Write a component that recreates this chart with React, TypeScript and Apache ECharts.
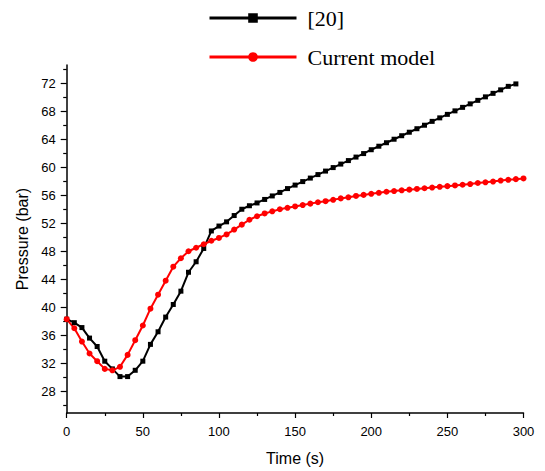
import React, { useEffect, useRef } from "react";
import * as echarts from "echarts";

const times = [0, 5, 10, 15, 20, 25, 30, 35, 40, 45, 50, 55, 60, 65, 70, 75, 80, 85, 90, 95, 100, 105, 110, 115, 120, 125, 130, 135, 140, 145, 150, 155, 160, 165, 170, 175, 180, 185, 190, 195, 200, 205, 210, 215, 220, 225, 230, 235, 240, 245, 250, 255, 260, 265, 270, 275, 280, 285, 290, 295, 300];

const ref20 = [38.3, 37.8, 37.1, 35.6, 34.4, 32.3, 31.2, 30.1, 30.1, 31.0, 32.3, 34.7, 36.5, 38.6, 40.4, 42.3, 45.0, 46.5, 48.4, 50.9, 51.6, 52.2, 53.1, 54.0, 54.5,
  54.9, 55.4, 55.9, 56.4, 56.95, 57.45, 57.95, 58.45, 58.95, 59.45, 59.95, 60.45, 60.95, 61.45, 61.95, 62.5, 63.0, 63.5, 64.0, 64.5, 65.0, 65.5, 66.0, 66.55, 67.05, 67.55, 68.05, 68.55, 69.05, 69.55, 70.05, 70.55, 71.05, 71.55, 71.9];

const currentModel = [38.3, 37.0, 35.1, 33.4, 32.3, 31.2, 31.0, 31.5, 33.2, 35.3, 37.4, 39.8, 41.8, 43.8, 45.8, 47.0, 48.0, 48.5, 49.0, 49.5, 49.9, 50.4, 51.1, 51.8, 52.5,
  53.0, 53.4, 53.7, 54.0, 54.2, 54.4, 54.6, 54.8, 55.0, 55.15, 55.35, 55.55, 55.7, 55.9, 56.05, 56.2, 56.35, 56.5, 56.6, 56.7, 56.8, 56.9, 57.0, 57.1, 57.2, 57.3, 57.4, 57.5, 57.6, 57.75, 57.85, 57.95, 58.1, 58.2, 58.3, 58.4];

const yMajorTicks = [28, 32, 36, 40, 44, 48, 52, 56, 60, 64, 68, 72];
const yMinorTicks = [26, 30, 34, 38, 42, 46, 50, 54, 58, 62, 66, 70, 74];
const xMajorTicks = [0, 50, 100, 150, 200, 250, 300];
const xMinorTicks = [25, 75, 125, 175, 225, 275];

const seriesNames = ["[20]", "Current model"];

export default function App() {
  const ref = useRef<HTMLDivElement>(null);
  useEffect(() => {
    if (!ref.current) return;
    const chart = echarts.init(ref.current, undefined, { renderer: "svg" });
    const yMin = 24.9;
    const yMax = 74.6;
    const axisFont = "Liberation Sans";
    chart.setOption({
      animation: false,
      backgroundColor: "#ffffff",
      grid: { left: 66.7, right: 21.5, top: 65, bottom: 56.7, containLabel: false },
      legend: {
        orient: "vertical",
        left: 203,
        top: 2,
        itemWidth: 87,
        itemHeight: 12,
        itemGap: 17,
        data: seriesNames,
        lineStyle: { width: 3 },
        textStyle: { fontFamily: "Liberation Serif", fontSize: 22, color: "#000", padding: [0, 0, 0, 6] },
      },
      xAxis: [
        {
          type: "value",
          min: 0,
          max: 300,
          position: "bottom",
          axisLine: { show: true, lineStyle: { color: "#000", width: 1.5 } },
          axisTick: { show: true, length: 5, inside: false, customValues: xMajorTicks, lineStyle: { color: "#000", width: 1.2 } },
          axisLabel: { customValues: xMajorTicks, fontFamily: axisFont, fontSize: 13, color: "#000", margin: 12 },
          splitLine: { show: false },
          name: "Time (s)",
          nameLocation: "middle",
          nameGap: 37,
          nameTextStyle: { fontFamily: axisFont, fontSize: 16, color: "#000" },
        },
        {
          type: "value",
          min: 0,
          max: 300,
          position: "bottom",
          axisLine: { show: false },
          axisTick: { show: true, length: 3, customValues: xMinorTicks, lineStyle: { color: "#000", width: 1.2 } },
          axisLabel: { show: false },
          splitLine: { show: false },
        },
      ],
      yAxis: [
        {
          type: "value",
          min: yMin,
          max: yMax,
          position: "left",
          axisLine: { show: true, lineStyle: { color: "#000", width: 1.5 } },
          axisTick: { show: true, length: 6, customValues: yMajorTicks, lineStyle: { color: "#000", width: 1.2 } },
          axisLabel: { customValues: yMajorTicks, fontFamily: axisFont, fontSize: 13, color: "#000", margin: 11 },
          splitLine: { show: false },
          name: "Pressure (bar)",
          nameLocation: "middle",
          nameGap: 34,
          nameTextStyle: { fontFamily: axisFont, fontSize: 16, color: "#000" },
        },
        {
          type: "value",
          min: yMin,
          max: yMax,
          position: "left",
          axisLine: { show: false },
          axisTick: { show: true, length: 3.5, customValues: yMinorTicks, lineStyle: { color: "#000", width: 1.2 } },
          axisLabel: { show: false },
          splitLine: { show: false },
        },
      ],
      series: [
        {
          name: seriesNames[0],
          type: "line",
          xAxisIndex: 0,
          yAxisIndex: 0,
          data: ref20.map((v, i) => [times[i], v]),
          symbol: "rect",
          symbolSize: 5,
          showAllSymbol: true,
          color: "#000000",
          lineStyle: { color: "#000000", width: 2 },
          itemStyle: { color: "#000000" },
        },
        {
          name: seriesNames[1],
          type: "line",
          xAxisIndex: 0,
          yAxisIndex: 0,
          data: currentModel.map((v, i) => [times[i], v]),
          symbol: "circle",
          symbolSize: 6,
          showAllSymbol: true,
          color: "#ff0000",
          lineStyle: { color: "#ff0000", width: 2 },
          itemStyle: { color: "#ff0000" },
        },
      ],
    });
    return () => chart.dispose();
  }, []);
  return <div ref={ref} style={{ position: "fixed", left: 0, top: 0, width: 545, height: 471 }} />;
}
